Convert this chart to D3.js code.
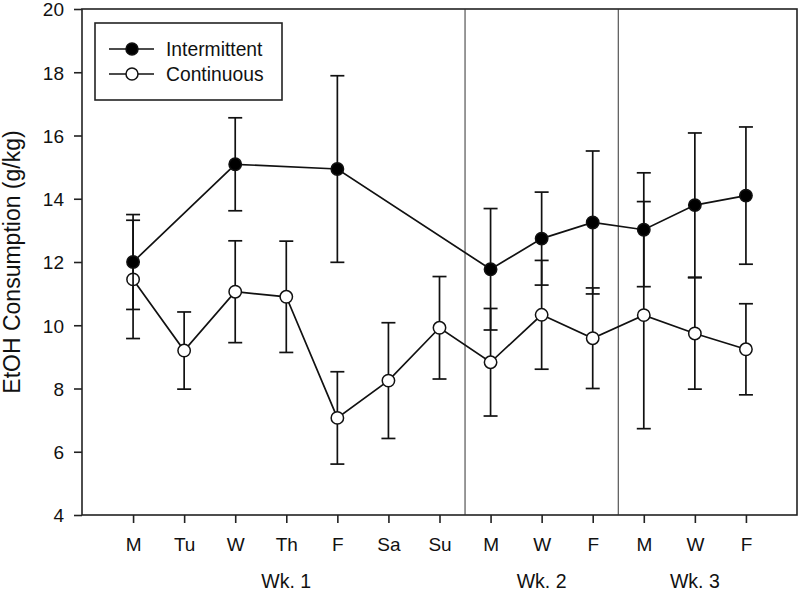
<!DOCTYPE html>
<html>
<head>
<meta charset="utf-8">
<script src="https://cdn.jsdelivr.net/npm/d3@7"></script>
<style>
  html, body { margin: 0; padding: 0; background: #fff; }
  svg { display: block; font-family: Arial, "Liberation Sans", sans-serif; }
</style>
</head>
<body>
<svg id="chart" width="800" height="593"></svg>
<script>
// ---- data ----
const categories = ["M","Tu","W","Th","F","Sa","Su","M","W","F","M","W","F"];
const weekLabels = ["Wk. 1","Wk. 2","Wk. 3"];
const weekCenters = [3, 8, 11];
const weekDividers = [6.5, 9.5];
const yTicks = [4, 6, 8, 10, 12, 14, 16, 18, 20];

const intermittentIdx  = [0, 2, 4, 7, 8, 9, 10, 11, 12];
const intermittentMean = [12.0, 15.09, 14.94, 11.77, 12.74, 13.25, 13.02, 13.8, 14.1];
const intermittentErr  = [1.5, 1.47, 2.95, 1.92, 1.47, 2.26, 1.8, 2.28, 2.17];

const continuousIdx  = [0, 1, 2, 3, 4, 5, 6, 7, 8, 9, 10, 11, 12];
const continuousMean = [11.45, 9.2, 11.06, 10.9, 7.07, 8.25, 9.92, 8.83, 10.33, 9.59, 10.32, 9.74, 9.24];
const continuousErr  = [1.87, 1.22, 1.61, 1.76, 1.46, 1.83, 1.62, 1.7, 1.72, 1.59, 3.59, 1.76, 1.44];

// ---- layout ----
const mLeft = 82, mRight = 797, mTop = 9, mBottom = 515;
const FONT = "Arial, 'Liberation Sans', sans-serif";
const svg = d3.select("#chart");
const x = d3.scaleLinear().domain([-1, 13]).range([mLeft, mRight]);
const y = d3.scaleLinear().domain([4, 20]).range([mBottom, mTop]);

// frame
svg.append("rect").attr("x", mLeft).attr("y", mTop)
  .attr("width", mRight - mLeft).attr("height", mBottom - mTop)
  .attr("fill", "none").attr("stroke", "#222").attr("stroke-width", 1.6);

// week dividers
svg.selectAll("line.div").data(weekDividers).enter().append("line")
  .attr("x1", d => x(d)).attr("x2", d => x(d))
  .attr("y1", mTop).attr("y2", mBottom)
  .attr("stroke", "#333").attr("stroke-width", 1);

// y axis
const yAxis = d3.axisLeft(y).tickValues(yTicks).tickSize(8).tickPadding(10).tickFormat(d3.format("d"));
const gy = svg.append("g").attr("transform", `translate(${mLeft},0)`).call(yAxis);
gy.select(".domain").remove();
gy.selectAll(".tick line").attr("stroke", "#222").attr("stroke-width", 1.6);
gy.selectAll(".tick text").attr("font-size", 19).attr("fill", "#111")
  .attr("font-family", FONT).attr("dy", "0.36em");

// x axis
const xAxis = d3.axisBottom(x).tickValues(d3.range(categories.length))
  .tickSize(8).tickPadding(0).tickFormat(i => categories[i]);
const gx = svg.append("g").attr("transform", `translate(0,${mBottom})`).call(xAxis);
gx.select(".domain").remove();
gx.selectAll(".tick line").attr("stroke", "#222").attr("stroke-width", 1.6);
gx.selectAll(".tick text").attr("font-size", 19).attr("fill", "#111")
  .attr("font-family", FONT).attr("y", 36).attr("dy", null);

// week labels
svg.selectAll("text.wk").data(weekLabels).enter().append("text")
  .attr("x", (d, i) => x(weekCenters[i])).attr("y", 588)
  .attr("text-anchor", "middle").attr("font-size", 19.5).attr("fill", "#111")
  .attr("font-family", FONT)
  .text(d => d);

// y label
svg.append("text")
  .attr("transform", `translate(19.5,${(mTop + mBottom) / 2}) rotate(-90)`)
  .attr("text-anchor", "middle").attr("font-size", 23).attr("fill", "#111")
  .attr("font-family", FONT)
  .text("EtOH Consumption (g/kg)");

// series
function drawSeries(idx, mean, err, fill) {
  const pts = idx.map((k, i) => ({ i: k, m: mean[i], e: err[i] }));
  const g = svg.append("g");
  const eb = g.selectAll("g.eb").data(pts).enter().append("g");
  eb.append("line").attr("x1", d => x(d.i)).attr("x2", d => x(d.i))
    .attr("y1", d => y(d.m - d.e)).attr("y2", d => y(d.m + d.e));
  eb.append("line").attr("x1", d => x(d.i) - 7).attr("x2", d => x(d.i) + 7)
    .attr("y1", d => y(d.m + d.e)).attr("y2", d => y(d.m + d.e));
  eb.append("line").attr("x1", d => x(d.i) - 7).attr("x2", d => x(d.i) + 7)
    .attr("y1", d => y(d.m - d.e)).attr("y2", d => y(d.m - d.e));
  eb.selectAll("line").attr("stroke", "#111").attr("stroke-width", 1.7);
  return { g, pts, fill };
}
function drawLineAndPoints(s) {
  s.g.append("path").datum(s.pts)
    .attr("d", d3.line().x(d => x(d.i)).y(d => y(d.m)))
    .attr("fill", "none").attr("stroke", "#111").attr("stroke-width", 1.7);
  s.g.selectAll("circle").data(s.pts).enter().append("circle")
    .attr("cx", d => x(d.i)).attr("cy", d => y(d.m)).attr("r", 6.2)
    .attr("fill", s.fill).attr("stroke", "#111").attr("stroke-width", 1.5);
}
const sc = drawSeries(continuousIdx, continuousMean, continuousErr, "#fff");
const si = drawSeries(intermittentIdx, intermittentMean, intermittentErr, "#000");
drawLineAndPoints(sc);
drawLineAndPoints(si);

// legend
const lg = svg.append("g");
lg.append("rect").attr("x", 95).attr("y", 23).attr("width", 187).attr("height", 77)
  .attr("fill", "#fff").attr("stroke", "#222").attr("stroke-width", 1.6);
const legendItems = [{ name: "Intermittent", fill: "#000" }, { name: "Continuous", fill: "#fff" }];
legendItems.forEach((d, i) => {
  const cy = 49 + i * 25;
  lg.append("line").attr("x1", 109).attr("x2", 154).attr("y1", cy).attr("y2", cy)
    .attr("stroke", "#111").attr("stroke-width", 1.5);
  lg.append("circle").attr("cx", 132).attr("cy", cy).attr("r", 6)
    .attr("fill", d.fill).attr("stroke", "#111").attr("stroke-width", 1.5);
  lg.append("text").attr("x", 166).attr("y", cy + 7).attr("font-size", 19.3)
    .attr("fill", "#111").attr("font-family", FONT).text(d.name);
});
</script>
</body>
</html>
